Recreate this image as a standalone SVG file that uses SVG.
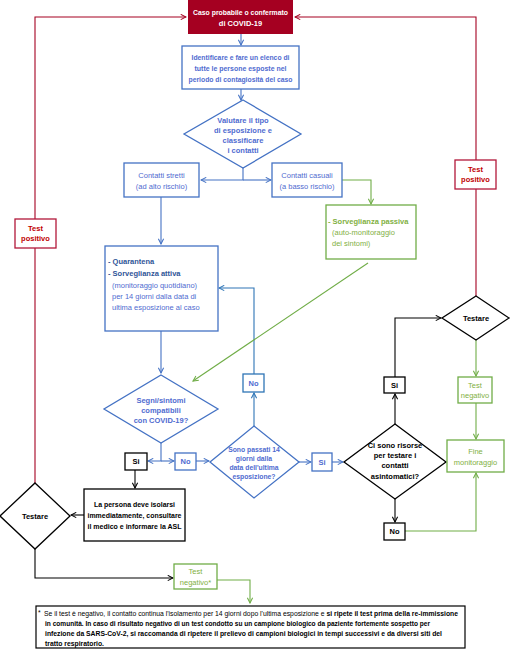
<svg xmlns="http://www.w3.org/2000/svg" width="526" height="653" viewBox="0 0 526 653">
<defs>
<marker id="aB" viewBox="0 0 8 8" refX="7" refY="4" markerWidth="7" markerHeight="7" markerUnits="userSpaceOnUse" orient="auto"><path d="M1,1 L7,4 L1,7" fill="none" stroke="#4472C4" stroke-width="1.2"/></marker>
<marker id="aL" viewBox="0 0 8 8" refX="7" refY="4" markerWidth="7" markerHeight="7" markerUnits="userSpaceOnUse" orient="auto"><path d="M1,1 L7,4 L1,7" fill="none" stroke="#2E75B6" stroke-width="1.2"/></marker>
<marker id="aG" viewBox="0 0 8 8" refX="7" refY="4" markerWidth="7" markerHeight="7" markerUnits="userSpaceOnUse" orient="auto"><path d="M1,1 L7,4 L1,7" fill="none" stroke="#70AD47" stroke-width="1.2"/></marker>
<marker id="aK" viewBox="0 0 8 8" refX="7" refY="4" markerWidth="7" markerHeight="7" markerUnits="userSpaceOnUse" orient="auto"><path d="M1,1 L7,4 L1,7" fill="none" stroke="#000" stroke-width="1.2"/></marker>
<marker id="aR" viewBox="0 0 8 8" refX="7" refY="4" markerWidth="7" markerHeight="7" markerUnits="userSpaceOnUse" orient="auto"><path d="M1,1 L7,4 L1,7" fill="none" stroke="#A50021" stroke-width="1.2"/></marker>
</defs>
<style>
text{font-family:"Liberation Sans",Arial,sans-serif;font-size:7.5px;text-anchor:middle}
.b{font-weight:bold}
.cB{fill:#4F6BD0}
.cD{fill:#2F5597}
.cG{fill:#7FB03F}
.cK{fill:#000}
.cR{fill:#C00000}
.cW{fill:#fff}
.nb{fill:#fff;stroke:#4472C4;stroke-width:1.3}
.nl{fill:#fff;stroke:#2E75B6;stroke-width:1.3}
.ng{fill:#fff;stroke:#70AD47;stroke-width:1.3}
.nk{fill:#fff;stroke:#000;stroke-width:1.3}
.nr{fill:#fff;stroke:#B2183A;stroke-width:1.3}
.l{fill:none;stroke-width:1.1}
.lb{stroke:#4472C4}
.ll{stroke:#2E75B6}
.lg{stroke:#70AD47}
.lk{stroke:#000}
.lr{stroke:#A50021}
</style>
<rect width="526" height="653" fill="#fff"/>
<g id="connectors">
<path class="l lr" d="M35,483 V17 H186" marker-end="url(#aR)"/>
<path class="l lr" d="M476,296 V17 H295" marker-end="url(#aR)" stroke="#B2183A"/>
<path class="l lb" d="M241,34 V45" marker-end="url(#aB)"/>
<path class="l lb" d="M241,89 V100" marker-end="url(#aB)"/>
<path class="l lb" d="M243,168 V180 H201" marker-end="url(#aB)"/>
<path class="l lb" d="M243,180 H271" marker-end="url(#aB)"/>
<path class="l lb" d="M161,197 V244" marker-end="url(#aB)"/>
<path class="l lb" d="M161,331 V373" marker-end="url(#aB)"/>
<path class="l lb" d="M161,443 V461 H148" marker-end="url(#aB)"/>
<path class="l lb" d="M161,461 H174" marker-end="url(#aB)"/>
<path class="l lb" d="M196,461 H209" marker-end="url(#aB)"/>
<path class="l lb" d="M299,462 H311" marker-end="url(#aB)"/>
<path class="l lb" d="M332,462 H343" marker-end="url(#aB)"/>
<path class="l ll" d="M254,426 V393" marker-end="url(#aL)"/>
<path class="l ll" d="M254,374 V288 H219" marker-end="url(#aL)"/>
<path class="l lg" d="M342,180 H371 V204" marker-end="url(#aG)"/>
<path class="l lg" d="M368,263 L193,381" marker-end="url(#aG)"/>
<path class="l lg" d="M476,340 V376" marker-end="url(#aG)"/>
<path class="l lg" d="M476,403 V439" marker-end="url(#aG)"/>
<path class="l lg" d="M405,531 H476 V473" marker-end="url(#aG)"/>
<path class="l lg" d="M217,580 H250 V603" marker-end="url(#aG)"/>
<path class="l lk" d="M395,424 V394" marker-end="url(#aK)"/>
<path class="l lk" d="M395,377 V318 H441" marker-end="url(#aK)"/>
<path class="l lk" d="M395,499 V522" marker-end="url(#aK)"/>
<path class="l lk" d="M135,470 V488" marker-end="url(#aK)"/>
<path class="l lk" d="M84,515 H71" marker-end="url(#aK)"/>
<path class="l lk" d="M35,549 V578 H173" marker-end="url(#aK)"/>
</g>
<g id="caso">
<rect x="188" y="0" width="105" height="34" fill="#A50021"/>
<text class="b cW" x="240.5" y="15" textLength="95" lengthAdjust="spacingAndGlyphs">Caso probabile o confermato</text>
<text class="b cW" x="240.5" y="26">di COVID-19</text>
</g>
<g id="identificare">
<rect class="nb" x="182" y="46" width="117" height="43"/>
<text class="b cB" x="240.5" y="60" textLength="98" lengthAdjust="spacingAndGlyphs">Identificare e fare un elenco di</text>
<text class="b cB" x="240.5" y="71" textLength="92" lengthAdjust="spacingAndGlyphs">tutte le persone esposte nel</text>
<text class="b cB" x="240.5" y="82" textLength="104" lengthAdjust="spacingAndGlyphs">periodo di contagiosità del caso</text>
</g>
<g id="valutare">
<polygon class="nb" points="243,100 301,134 243,168 184,134"/>
<text class="b cB" x="243" y="123">Valutare il tipo</text>
<text class="b cB" x="243" y="133">di esposizione e</text>
<text class="b cB" x="243" y="143">classificare</text>
<text class="b cB" x="243" y="153">i contatti</text>
</g>
<g id="stretti">
<rect class="nb" x="124" y="163" width="75" height="34"/>
<text class="cB" x="161.5" y="178">Contatti stretti</text>
<text class="cB" x="161.5" y="189">(ad alto rischio)</text>
</g>
<g id="casuali">
<rect class="nb" x="272" y="163" width="70" height="34"/>
<text class="cB" x="307" y="178">Contatti casuali</text>
<text class="cB" x="307" y="189">(a basso rischio)</text>
</g>
<g id="passiva">
<rect class="ng" x="326" y="205" width="90" height="54"/>
<text class="b cG" x="328" y="224" style="text-anchor:start">- Sorveglianza passiva</text>
<text class="cG" x="332" y="235" style="text-anchor:start">(auto-monitoraggio</text>
<text class="cG" x="332" y="246" style="text-anchor:start">dei sintomi)</text>
</g>
<g id="quarantena">
<rect class="nb" x="105" y="246" width="113" height="85"/>
<text class="b cD" x="108" y="264" style="text-anchor:start">- Quarantena</text>
<text class="b cD" x="108" y="276" style="text-anchor:start">- Sorveglianza attiva</text>
<text class="cB" x="112" y="288" style="text-anchor:start">(monitoraggio quotidiano)</text>
<text class="cB" x="112" y="299" style="text-anchor:start">per 14 giorni dalla data di</text>
<text class="cB" x="112" y="310" style="text-anchor:start">ultima esposizione al caso</text>
</g>
<g id="segni">
<polygon class="nb" points="161,375 218,409 161,443 104,409"/>
<text class="b cB" x="161" y="403">Segni/sintomi</text>
<text class="b cB" x="161" y="413">compatibili</text>
<text class="b cB" x="161" y="423">con COVID-19?</text>
</g>
<g id="si-segni">
<rect class="nk" x="125" y="453" width="22" height="17"/>
<text class="b cK" x="136" y="464">Si</text>
</g>
<g id="no-segni">
<rect class="nb" x="175" y="453" width="21" height="17"/>
<text class="b cB" x="185.5" y="464">No</text>
</g>
<g id="sono-passati">
<polygon class="nb" points="254,426 299,462 254,498 210,462"/>
<text class="b cB" x="254" y="452" style="font-size:6.8px">Sono passati 14</text>
<text class="b cB" x="254" y="461" style="font-size:6.8px">giorni dalla</text>
<text class="b cB" x="254" y="470" style="font-size:6.8px">data dell'ultima</text>
<text class="b cB" x="254" y="479" style="font-size:6.8px">esposizione?</text>
</g>
<g id="no-passati">
<rect class="nl" x="243" y="374" width="21" height="18"/>
<text class="b cB" x="253.5" y="386">No</text>
</g>
<g id="si-passati">
<rect class="nb" x="312" y="453" width="20" height="18"/>
<text class="b cB" x="322" y="465">Si</text>
</g>
<g id="risorse">
<polygon class="nk" points="395,424 446,462 395,499 344,462"/>
<text class="b cK" x="395" y="448">Ci sono risorse</text>
<text class="b cK" x="395" y="458">per testare i</text>
<text class="b cK" x="395" y="468">contatti</text>
<text class="b cK" x="395" y="479">asintomatici?</text>
</g>
<g id="si-risorse">
<rect class="nk" x="384" y="377" width="21" height="16"/>
<text class="b cK" x="394.5" y="388">Si</text>
</g>
<g id="no-risorse">
<rect class="nk" x="384" y="523" width="21" height="17"/>
<text class="b cK" x="394.5" y="534">No</text>
</g>
<g id="testare-dx">
<polygon class="nk" points="476,296 509,318 476,340 442,318"/>
<text class="b cK" x="476" y="321">Testare</text>
</g>
<g id="test-positivo-dx">
<rect class="nr" x="455" y="160" width="41" height="29"/>
<text class="b cR" x="475.5" y="172">Test</text>
<text class="b cR" x="475.5" y="182">positivo</text>
</g>
<g id="test-negativo-dx">
<rect class="ng" x="458" y="377" width="34" height="26"/>
<text class="cG" x="475" y="388">Test</text>
<text class="cG" x="475" y="398">negativo</text>
</g>
<g id="fine">
<rect class="ng" x="447" y="440" width="57" height="32"/>
<text class="cG" x="475.5" y="454">Fine</text>
<text class="cG" x="475.5" y="465">monitoraggio</text>
</g>
<g id="test-positivo-sx">
<rect class="nr" x="15" y="219" width="41" height="29" stroke="#A50021"/>
<text class="b cR" x="35.5" y="231">Test</text>
<text class="b cR" x="35.5" y="241">positivo</text>
</g>
<g id="persona">
<rect class="nk" x="84" y="489" width="101" height="52"/>
<text class="b cK" x="134.5" y="507" textLength="81" lengthAdjust="spacingAndGlyphs">La persona deve isolarsi</text>
<text class="b cK" x="134.5" y="518" textLength="94" lengthAdjust="spacingAndGlyphs">immediatamente,  consultare</text>
<text class="b cK" x="134.5" y="529" textLength="94" lengthAdjust="spacingAndGlyphs">il medico e informare la ASL</text>
</g>
<g id="testare-sx">
<polygon class="nk" points="35,483 70,516 35,549 0,516"/>
<text class="b cK" x="35" y="519">Testare</text>
</g>
<g id="test-negativo-sx">
<rect class="ng" x="174" y="564" width="43" height="25"/>
<text class="cG" x="195.5" y="574">Test</text>
<text class="cG" x="195.5" y="585">negativo*</text>
</g>
<g id="nota">
<rect x="36" y="606" width="429" height="42" fill="#fff" stroke="#000" stroke-width="1.2"/>
<text x="38" y="615" style="text-anchor:start;font-size:6.8px">*</text>
<text x="44" y="616" style="text-anchor:start;font-size:6.8px" textLength="414" lengthAdjust="spacingAndGlyphs">Se il test è negativo, il contatto continua l'isolamento per 14 giorni dopo l'ultima esposizione e <tspan class="b">si ripete il test prima della re-immissione</tspan></text>
<text class="b" x="45" y="626" style="text-anchor:start;font-size:6.8px" textLength="385" lengthAdjust="spacingAndGlyphs">in comunità. In caso di risultato negativo di un test condotto su un campione biologico da paziente fortemente sospetto per</text>
<text class="b" x="45" y="636" style="text-anchor:start;font-size:6.8px" textLength="397" lengthAdjust="spacingAndGlyphs">infezione da SARS-CoV-2, si raccomanda di ripetere il prelievo di campioni biologici in tempi successivi e da diversi siti del</text>
<text class="b" x="45" y="646" style="text-anchor:start;font-size:6.8px" textLength="59" lengthAdjust="spacingAndGlyphs">tratto respiratorio.</text>
</g>
</svg>
